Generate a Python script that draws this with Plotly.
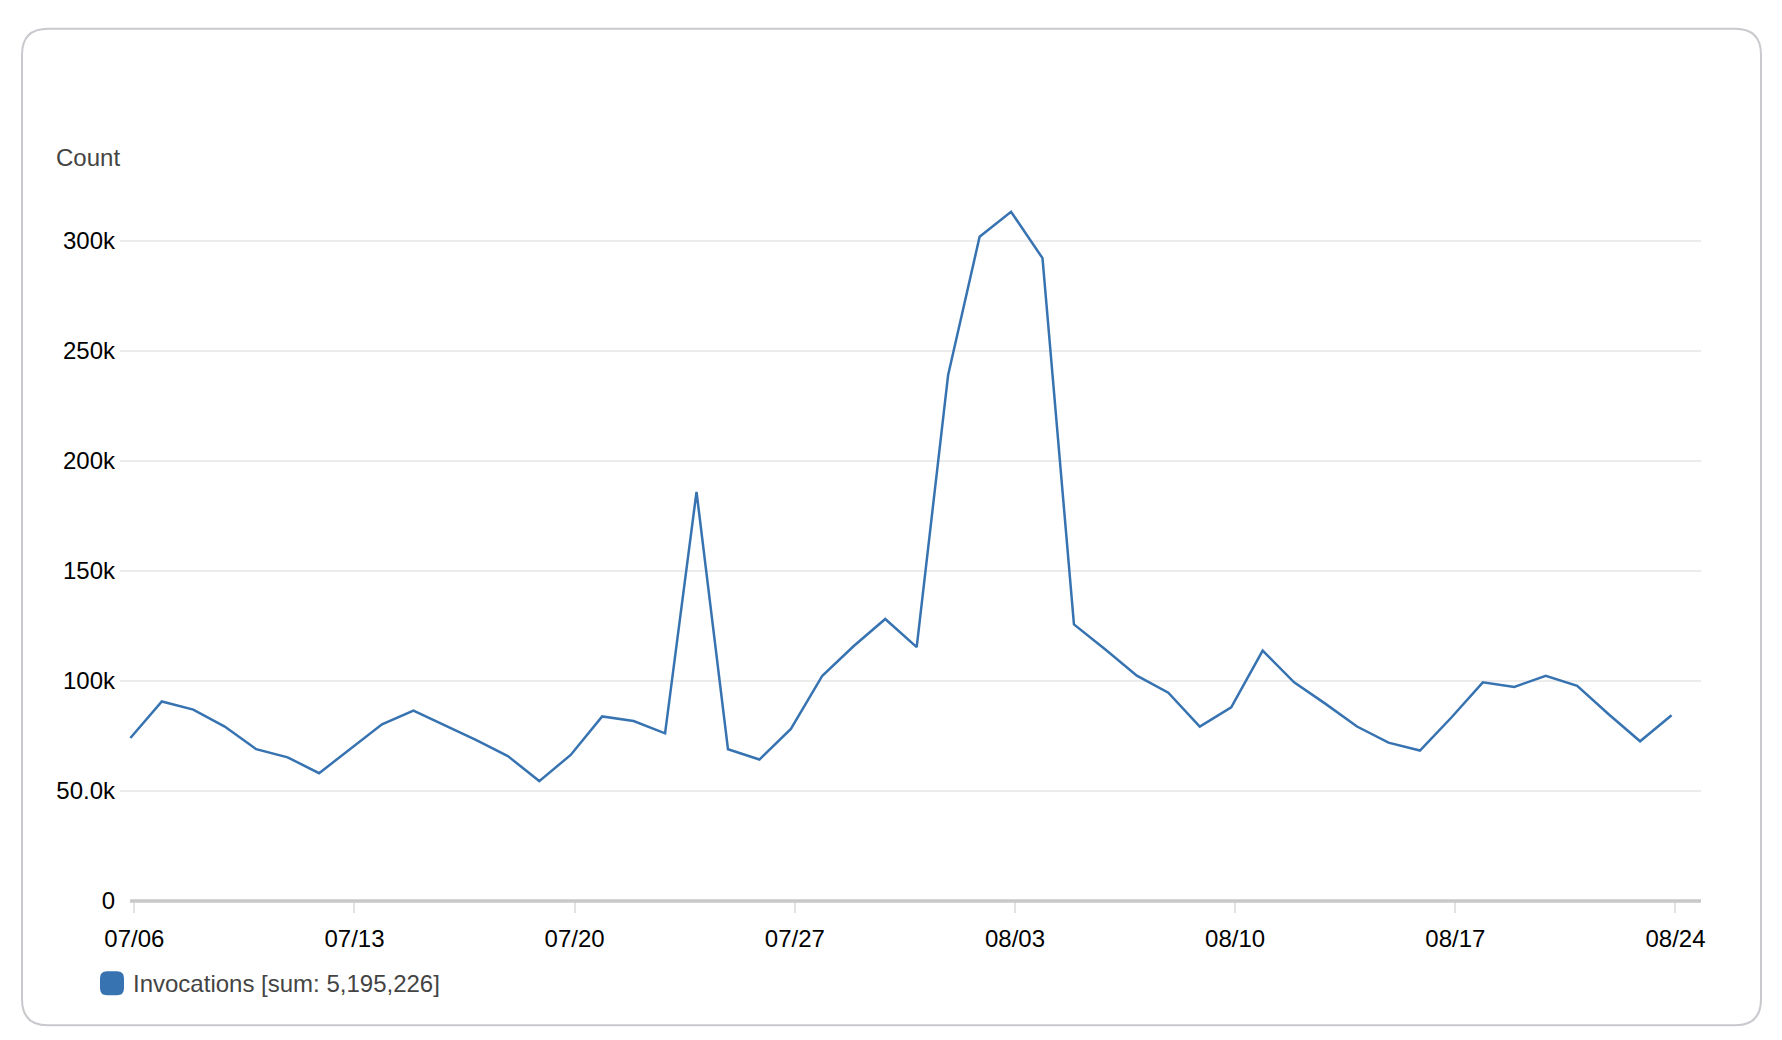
import pandas as pd
import plotly.graph_objects as go

# ---- data ----
dates = pd.date_range("2024-07-05 21:00", periods=50, freq="D")
invocations = [74100, 90700, 87000, 79300, 69000, 65300, 58100, 69400, 80300, 86500,
               79800, 73100, 65900, 54500, 66400, 83900, 81800, 76200, 186000, 69000,
               64300, 78200, 102400, 115900, 128200, 115400, 239100, 301900, 313300, 292200,
               125700, 114300, 102400, 94700, 79300, 88000, 113800, 99400, 89600, 79300,
               72000, 68400, 83400, 99400, 97300, 102400, 97800, 84900, 72600, 84400]
x_tickvals = ["2024-07-06", "2024-07-13", "2024-07-20", "2024-07-27",
              "2024-08-03", "2024-08-10", "2024-08-17", "2024-08-24"]
x_ticktext = ["07/06", "07/13", "07/20", "07/27", "08/03", "08/10", "08/17", "08/24"]
y_tickvals = [0, 50000, 100000, 150000, 200000, 250000, 300000]
y_ticktext = ["0", "50.0k", "100k", "150k", "200k", "250k", "300k"]
series_name = "Invocations [sum: 5,195,226]"
y_title = "Count"

# ---- layout geometry (pixels) ----
W, H = 1782, 1040
PL, PR = 120, 1701          # plot area left/right
PT, PB = 174.7, 900.7       # plot area top/bottom
LINE = "#3773b1"
FONT = "Liberation Sans, Arial, Helvetica, sans-serif"


def px(x):
    return (x - PL) / (PR - PL)


def py(y):
    return (PB - y) / (PB - PT)


def rounded_rect(x0, y0, x1, y1, r):
    X0, X1 = px(x0), px(x1)
    Y0, Y1 = py(y0), py(y1)
    rx = r / (PR - PL)
    ry = r / (PB - PT)
    return (f"M {X0+rx},{Y0} L {X1-rx},{Y0} Q {X1},{Y0} {X1},{Y0-ry} "
            f"L {X1},{Y1+ry} Q {X1},{Y1} {X1-rx},{Y1} "
            f"L {X0+rx},{Y1} Q {X0},{Y1} {X0},{Y1+ry} "
            f"L {X0},{Y0-ry} Q {X0},{Y0} {X0+rx},{Y0} Z")


fig = go.Figure()
fig.add_trace(go.Scatter(x=dates, y=invocations, mode="lines",
                         line=dict(color=LINE, width=2.5), name=series_name,
                         showlegend=False, hoverinfo="x+y"))

shapes = [
    # card border
    dict(type="path", xref="paper", yref="paper",
         path=rounded_rect(22, 28.5, 1761, 1025, 26),
         line=dict(color="#c9c9ce", width=2), fillcolor="rgba(0,0,0,0)", layer="below"),
    # baseline
    dict(type="line", xref="paper", yref="paper", x0=px(130), x1=1, y0=0, y1=0,
         line=dict(color="#c8c8c8", width=3.5), layer="above"),
    # legend swatch
    dict(type="path", xref="paper", yref="paper",
         path=rounded_rect(100, 971, 124, 995, 7),
         line=dict(color=LINE, width=0), fillcolor=LINE),
]

annotations = [
    dict(text=y_title, xref="paper", yref="paper", x=px(54), y=py(157),
         xanchor="left", yanchor="middle", showarrow=False,
         font=dict(size=24, color="#444444", family=FONT)),
    dict(text=series_name, xref="paper", yref="paper", x=px(131), y=py(983),
         xanchor="left", yanchor="middle", showarrow=False,
         font=dict(size=24, color="#444444", family=FONT)),
]

fig.update_layout(
    width=W, height=H,
    margin=dict(l=PL, r=W - PR, t=PT, b=H - PB, pad=0),
    paper_bgcolor="white", plot_bgcolor="white",
    font=dict(family=FONT, size=24, color="#000000"),
    shapes=shapes, annotations=annotations,
    showlegend=False,
    xaxis=dict(type="date", range=["2024-07-05 13:05", "2024-08-24 19:28"],
               tickvals=x_tickvals, ticktext=x_ticktext,
               ticks="outside", ticklen=11, tickwidth=1.5, tickcolor="#e3e3e3",
               showgrid=False, zeroline=False, showline=False,
               tickfont=dict(size=24, color="#000000"), ticklabelstandoff=5),
    yaxis=dict(range=[0, 330000], tickvals=y_tickvals, ticktext=y_ticktext,
               showgrid=True, gridcolor="#ececec", gridwidth=2,
               zeroline=False, showline=False, ticks="",
               tickfont=dict(size=24, color="#000000"), ticklabelstandoff=4),
)

fig.write_html("out.html", config={"displayModeBar": False},
               post_script="document.body.style.margin='0';document.body.style.overflow='hidden';")
